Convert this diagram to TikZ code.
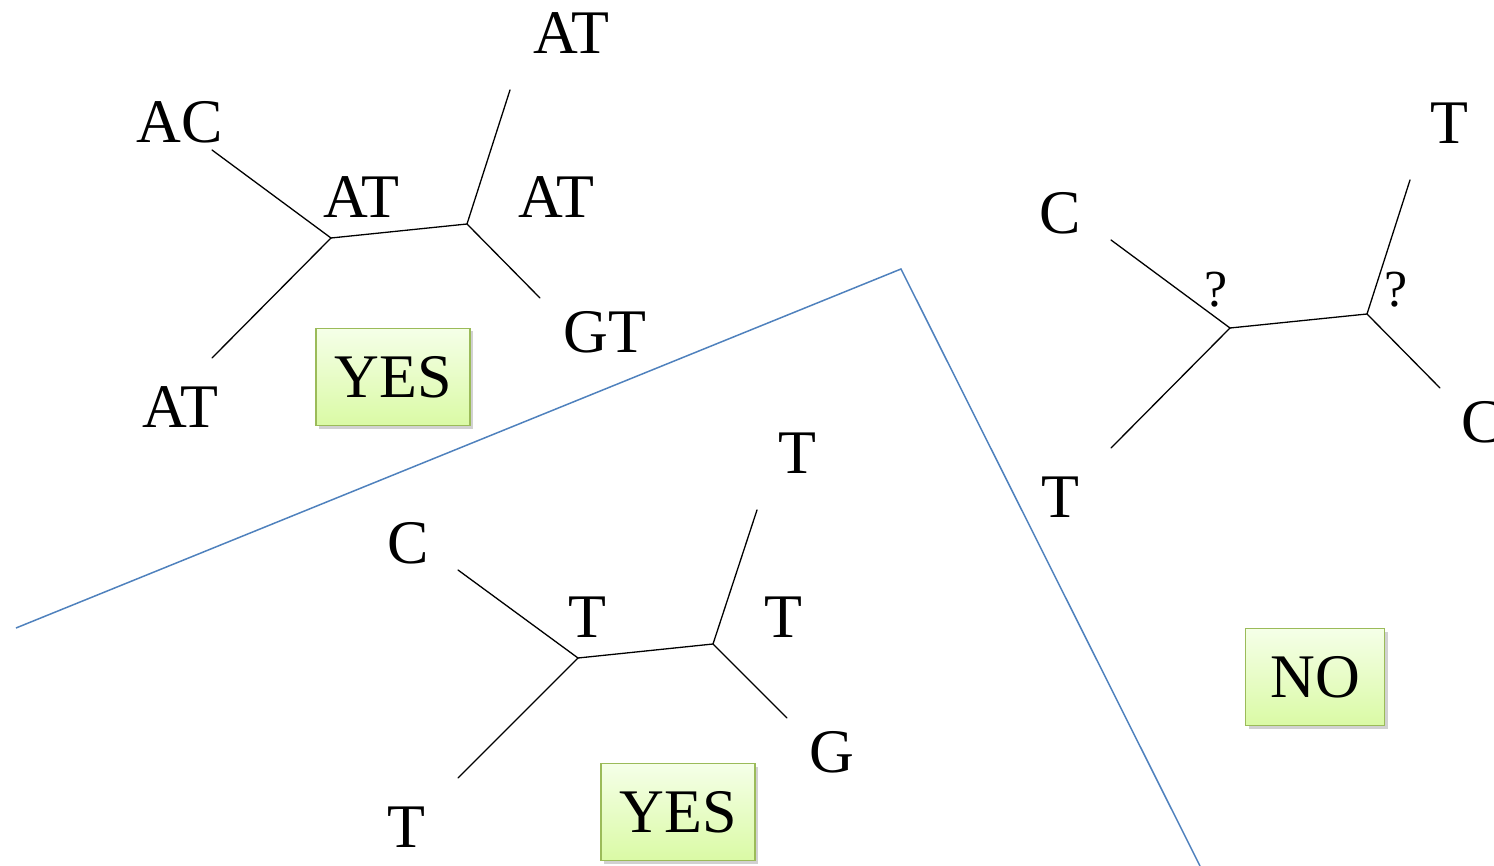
\documentclass[tikz,border=0pt]{standalone}
\usepackage{fontspec}
\setmainfont{Liberation Serif}
\usetikzlibrary{shadows}
\definecolor{edgeblue}{RGB}{79,129,189}
\definecolor{boxedge}{RGB}{155,187,89}
\definecolor{boxtop}{RGB}{245,255,232}
\definecolor{boxbot}{RGB}{218,250,165}
\tikzset{
  branch/.style={line width=0.65pt, black, line cap=round},
  lbl/.style={font=\fontsize{31}{31}\selectfont, inner sep=0pt},
  qlbl/.style={font=\fontsize{26}{26}\selectfont, inner sep=0pt},
  verdict/.style={draw=boxedge, line width=0.8pt, top color=boxtop, bottom color=boxbot,
    minimum width=77pt, minimum height=48.5pt, inner sep=0pt,
    font=\fontsize{31}{31}\selectfont,
    drop shadow={shadow xshift=1.5pt, shadow yshift=-1.5pt, opacity=0.3, fill=black!60}},
  divider/.style={edgeblue, line width=0.75pt}
}
\begin{document}
\begin{tikzpicture}[x=0.5pt, y=-0.5pt]
\useasboundingbox (0,0) rectangle (1494,866);

% dividing line between the three cases
\coordinate (d1) at (16,628);
\coordinate (d2) at (901,269);
\coordinate (d3) at (1200,866);
\draw[divider] (d1) -- (d2) -- (d3);

% ---- tree 1: AT / AC / AT / GT ----
\coordinate (a1) at (331,238);
\coordinate (a2) at (467,224);
\coordinate (aul) at (212,150);
\coordinate (all) at (212,358);
\coordinate (aur) at (510,90);
\coordinate (alr) at (540,298);
\draw[branch] (aul) -- (a1) -- (all);
\draw[branch] (a1) -- (a2);
\draw[branch] (aur) -- (a2) -- (alr);
\node[lbl] (tAC) at (180,122) {AC};
\node[lbl] (tATi) at (361,197) {AT};
\node[lbl] (tATj) at (556,197) {AT};
\node[lbl] (tATt) at (571,33) {AT};
\node[lbl] (tGT) at (605,332) {GT};
\node[lbl] (tATb) at (180,407) {AT};
\node[verdict] (yes1) at (393,377) {YES};

% ---- tree 2: T / C / T / G ----
\coordinate (b1) at (578,658);
\coordinate (b2) at (713,644);
\coordinate (bul) at (458,570);
\coordinate (bll) at (458,778);
\coordinate (bur) at (757,510);
\coordinate (blr) at (787,718);
\draw[branch] (bul) -- (b1) -- (bll);
\draw[branch] (b1) -- (b2);
\draw[branch] (bur) -- (b2) -- (blr);
\node[lbl] (sC) at (408,543) {C};
\node[lbl] (sTi) at (587,617) {T};
\node[lbl] (sTj) at (783,617) {T};
\node[lbl] (sTt) at (797,453) {T};
\node[lbl] (sG) at (832,752) {G};
\node[lbl] (sTb) at (406,827) {T};
\node[verdict] (yes2) at (678,812) {YES};

% ---- tree 3: unresolved ----
\coordinate (c1) at (1230,328);
\coordinate (c2) at (1367,314);
\coordinate (cul) at (1111,240);
\coordinate (cll) at (1111,448);
\coordinate (cur) at (1410,180);
\coordinate (clr) at (1440,388);
\draw[branch] (cul) -- (c1) -- (cll);
\draw[branch] (c1) -- (c2);
\draw[branch] (cur) -- (c2) -- (clr);
\node[lbl] (uC) at (1060,213) {C};
\node[qlbl] (uq1) at (1216,290) {?};
\node[qlbl] (uq2) at (1396,290) {?};
\node[lbl] (uTt) at (1449,123) {T};
\node[lbl] (uCr) at (1482,422) {C};
\node[lbl] (uTb) at (1060,497) {T};
\node[verdict, minimum width=69.5pt] (no1) at (1315,677) {NO};
\end{tikzpicture}
\end{document}
